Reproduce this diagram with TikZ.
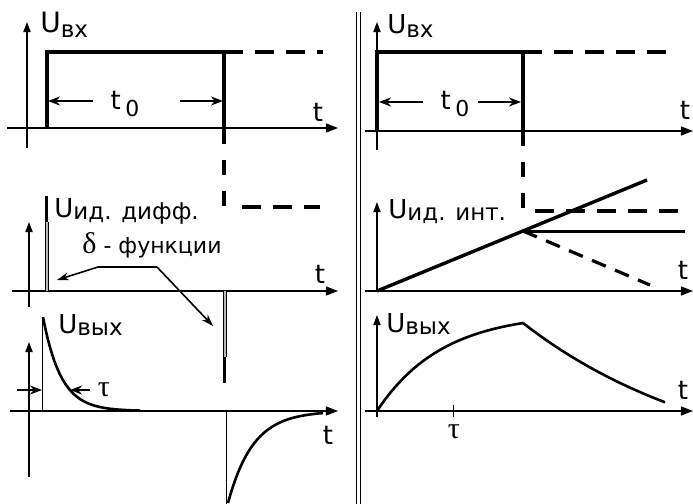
\documentclass[tikz,border=0pt]{standalone}
\usepackage{fontspec}
\setmainfont{DejaVu Sans}
\newfontfamily\greekfont{Liberation Serif}
\usetikzlibrary{arrows.meta}
\newcommand{\subfont}{\fontsize{11.5}{12}\selectfont}
\newcommand{\usub}[2][1pt]{U\raisebox{-#1}{\subfont #2}}
\tikzset{
  axis/.style={line width=0.6pt, -{Triangle[length=6pt,width=4.5pt]}},
  yaxis/.style={line width=0.6pt, -{Triangle[length=5pt,width=3.6pt]}},
  pulse/.style={line width=1.7pt},
  dashpulse/.style={line width=1.7pt, dash pattern=on 9.5pt off 6pt},
  dashvert/.style={line width=1.7pt, dash pattern=on 7.5pt off 8pt, dash phase=7.5pt},
  curve/.style={line width=1.3pt},
  thinline/.style={line width=0.5pt},
  span/.style={line width=0.9pt, -{Stealth[length=6pt,width=4.5pt]}},
  callout/.style={line width=0.8pt, -{Stealth[length=6pt,width=4pt]}},
  spike/.style={line width=0.5pt, double=gray!55, double distance=1.2pt},
  ulbl/.style={inner sep=0pt, anchor=base west, font=\fontsize{13}{15}\selectfont},
  tlbl/.style={inner sep=0pt, font=\fontsize{13}{15}\selectfont},
  greek/.style={inner sep=0pt, font=\greekfont\fontsize{15}{17}\selectfont}
}
\begin{document}
\begin{tikzpicture}[x=0.5pt, y=-0.5pt]
  \useasboundingbox (0,0) rectangle (693,504);
  % divider
  \draw[thinline] (357,12) -- (357,504);
  \draw[thinline] (361,12) -- (361,504);

  % ---- left: input pulse
  \draw[yaxis] (27,148) -- (27,22);
  \draw[axis] (7,128) -- (338,128);
  \draw[pulse] (47,128) -- (47,52) -- (224,52) -- (224,144);
  \draw[dashpulse] (224,52) -- (323,52);
  \draw[dashvert] (224,144) -- (224,207);
  \draw[dashpulse] (242,207) -- (320,207);
  \draw[span] (93,101) -- (48,101);
  \draw[span] (180,101) -- (223,101);
  \node[tlbl] (tA) at (125,104) {t\raisebox{-3.5pt}{\,\fontsize{11}{12}\selectfont 0}};
  \node[ulbl, font=\fontsize{14}{16}\selectfont] (uinA) at (40,32) {\usub[2.5pt]{вх}};
  \node[tlbl] (tB) at (318,112) {t};

  % ---- left: ideal derivative
  \draw[yaxis] (29,307) -- (29,222);
  \draw[axis] (12,291) -- (338,291);
  \draw[spike] (47,291) -- (47,222);
  \draw[line width=1.5pt] (47,222) -- (47,196);
  \draw[spike] (225,291) -- (225,357);
  \draw[line width=1.5pt] (225,357) -- (225,383);
  \node[ulbl] (udiff) at (54,217) {\usub{ид. дифф.}};
  \node[inner sep=0pt, font=\fontsize{11}{13}\selectfont] (delta) at (152,245)
    {{\greekfont\fontsize{15}{17}\selectfont δ} - функции};
  \coordinate (kneeL) at (98,267);
  \coordinate (kneeR) at (157,267);
  \coordinate (tipA) at (57,280);
  \coordinate (tipB) at (213,326);
  \draw[callout] (kneeR) -- (kneeL) -- (tipA);
  \draw[callout] (kneeR) -- (tipB);
  \node[tlbl] (tC) at (320,274) {t};

  % ---- left: output
  \draw[yaxis] (29,477) -- (29,342);
  \draw[axis] (10,411) -- (338,411);
  \draw[thinline] (43,411) -- (43,317);
  \draw[curve] plot[domain=0:97, samples=60] ({43+\x},{411-94*exp(-\x/18)});
  \draw[thinline] (227,411) -- (227,504);
  \draw[curve] plot[domain=0:95, samples=60] ({228+\x},{411+92*exp(-\x/25)});
  \draw[span] (17,390) -- (42,390);
  \draw[span] (90,390) -- (70,390);
  \node[greek] (tauA) at (104,390) {τ};
  \node[ulbl] (uoutA) at (58,333) {\usub{вых}};
  \node[tlbl] (tD) at (328,435) {t};

  % ---- right: input pulse
  \draw[yaxis] (377,150) -- (377,22);
  \draw[axis] (365,131) -- (693,131);
  \draw[pulse] (377,131) -- (377,52) -- (523,52) -- (523,146);
  \draw[dashpulse] (523,52) -- (675,52);
  \draw[dashvert] (523,146) -- (523,212);
  \draw[span] (423,102) -- (379,102);
  \draw[span] (478,102) -- (521,102);
  \node[tlbl] (tE) at (455,104) {t\raisebox{-3.5pt}{\,\fontsize{11}{12}\selectfont 0}};
  \node[ulbl] (uinB) at (387,33) {\usub[2pt]{вх}};
  \node[tlbl] (tF) at (685,110) {t};

  % ---- right: ideal integral
  \draw[yaxis] (377,291) -- (377,202);
  \draw[axis] (365,291) -- (693,291);
  \draw[pulse] (377,291) -- (647,180);
  \draw[line width=1.5pt] (523,231) -- (685,231);
  \draw[line width=1.6pt, dash pattern=on 7.5pt off 5pt] (523,231) -- (650,285);
  \draw[dashpulse] (535,211) -- (685,211);
  \node[ulbl] (uint) at (388,218) {\usub{ид. инт.}};
  \node[tlbl] (tG) at (683,270) {t};

  % ---- right: output
  \draw[yaxis] (377,417) -- (377,315);
  \draw[axis] (365,411) -- (693,411);
  \draw[curve] plot[domain=0:146, samples=60] ({377+\x},{411-98.4*(1-exp(-\x/65))});
  \draw[curve] plot[domain=0:142, samples=60] ({523+\x},{479-156*exp(-\x/200)});
  \draw[thinline] (454,405) -- (454,417);
  \node[greek] (tauB) at (454,432) {τ};
  \node[ulbl] (uoutB) at (386,332) {\usub{вых}};
  \node[tlbl] (tH) at (683,390) {t};
\end{tikzpicture}
\end{document}
